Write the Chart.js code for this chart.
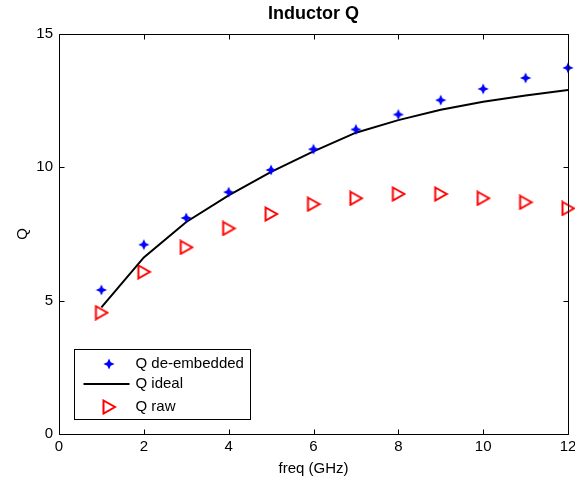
<!DOCTYPE html>
<html lang="en">
<head>
<meta charset="UTF-8">
<title>Inductor Q</title>
<script src="https://cdn.jsdelivr.net/npm/chart.js"></script>
<style>
  body { margin: 0; background: #fff; }
  #grafico { display: block; background: #fff; }
</style>
</head>
<body>
<canvas id="grafico" width="575" height="480"></canvas>
<script>
// values
const freqGHz = [1, 2, 3, 4, 5, 6, 7, 8, 9, 10, 11, 12];
const qDeembedded = [5.4, 7.1, 8.1, 9.07, 9.9, 10.68, 11.42, 11.98, 12.52, 12.94, 13.35, 13.73];
const qIdeal = [4.75, 6.62, 7.95, 8.95, 9.83, 10.6, 11.3, 11.77, 12.16, 12.46, 12.69, 12.9];
const qRaw = [4.55, 6.08, 7.0, 7.71, 8.25, 8.62, 8.84, 9.0, 9.0, 8.84, 8.69, 8.46];
const xTicks = [0, 2, 4, 6, 8, 10, 12];
const yTicks = [0, 5, 10, 15];
const legendLabels = ['Q de-embedded', 'Q ideal', 'Q raw'];

const fonte = 'Liberation Sans, Arial, sans-serif';

// marker images (matlab-like '*' and '>')
function fazerEstrela() {
    const c = document.createElement('canvas');
    c.width = 12; c.height = 12;
    const g = c.getContext('2d');
    const m = 6, r = 5.6, k = 1.7;
    g.fillStyle = '#0000ff';
    g.beginPath();
    g.moveTo(m, m - r);
    g.lineTo(m + k, m - k);
    g.lineTo(m + r, m);
    g.lineTo(m + k, m + k);
    g.lineTo(m, m + r);
    g.lineTo(m - k, m + k);
    g.lineTo(m - r, m);
    g.lineTo(m - k, m - k);
    g.closePath();
    g.fill();
    return c;
}
function fazerTriangulo() {
    const c = document.createElement('canvas');
    c.width = 16; c.height = 16;
    const g = c.getContext('2d');
    g.strokeStyle = '#ff0000';
    g.lineWidth = 2;
    g.lineJoin = 'miter';
    g.beginPath();
    g.moveTo(2.5, 1.5);
    g.lineTo(14, 8);
    g.lineTo(2.5, 14.5);
    g.closePath();
    g.stroke();
    return c;
}
const estrela = fazerEstrela();
const triangulo = fazerTriangulo();

function pontos(ys) {
    return freqGHz.map((x, i) => ({ x: x, y: ys[i] }));
}

// box around the axes + inward ticks on all four sides
const moldura = {
    id: 'moldura',
    afterDatasetsDraw(chart) {
        const ctx = chart.ctx;
        const a = chart.chartArea;
        const sx = chart.scales.x, sy = chart.scales.y;
        const L = Math.round(a.left) + 0.5, R = Math.round(a.right) + 0.5;
        const T = Math.round(a.top) + 0.5, B = Math.round(a.bottom) + 0.5;
        const t = 5;
        ctx.save();
        ctx.strokeStyle = '#000';
        ctx.lineWidth = 1;
        ctx.beginPath();
        ctx.rect(L, T, R - L, B - T);
        sx.ticks.forEach(tk => {
            const px = Math.round(sx.getPixelForValue(tk.value)) + 0.5;
            ctx.moveTo(px, B); ctx.lineTo(px, B - t);
            ctx.moveTo(px, T); ctx.lineTo(px, T + t);
        });
        sy.ticks.forEach(tk => {
            const py = Math.round(sy.getPixelForValue(tk.value)) + 0.5;
            ctx.moveTo(L, py); ctx.lineTo(L + t, py);
            ctx.moveTo(R, py); ctx.lineTo(R - t, py);
        });
        ctx.stroke();
        ctx.restore();
    }
};

// legend box in the lower left corner of the axes
const legenda = {
    id: 'legenda',
    afterDraw(chart) {
        const ctx = chart.ctx;
        const a = chart.chartArea;
        const bx = Math.round(a.left) + 15.5, by = Math.round(a.bottom) - 84.5;
        const bw = 176, bh = 70;
        ctx.save();
        ctx.fillStyle = '#fff';
        ctx.fillRect(bx, by, bw, bh);
        ctx.strokeStyle = '#000';
        ctx.lineWidth = 1;
        ctx.strokeRect(bx, by, bw, bh);
        const linhas = [by + 14, by + 34.5, by + 57];
        const mx = bx + 34;
        ctx.drawImage(estrela, Math.round(mx - 6), Math.round(linhas[0] - 6));
        ctx.beginPath();
        ctx.lineWidth = 2;
        ctx.strokeStyle = '#000';
        ctx.moveTo(bx + 9, linhas[1]);
        ctx.lineTo(bx + 55, linhas[1]);
        ctx.stroke();
        ctx.drawImage(triangulo, Math.round(mx - 8), Math.round(linhas[2] - 8));
        ctx.fillStyle = '#000';
        ctx.font = '15px ' + fonte;
        ctx.textBaseline = 'middle';
        ctx.textAlign = 'left';
        legendLabels.forEach((txt, i) => ctx.fillText(txt, bx + 61, linhas[i]));
        ctx.restore();
    }
};

const config = {
    type: 'scatter',
    data: {
        datasets: [
            {
                label: legendLabels[0],
                data: pontos(qDeembedded),
                pointStyle: estrela,
                showLine: false,
                clip: false
            },
            {
                label: legendLabels[1],
                data: pontos(qIdeal),
                showLine: true,
                borderColor: '#000',
                borderWidth: 2,
                pointRadius: 0,
                pointHoverRadius: 0,
                tension: 0,
                clip: false
            },
            {
                label: legendLabels[2],
                data: pontos(qRaw),
                pointStyle: triangulo,
                showLine: false,
                clip: false
            }
        ]
    },
    options: {
        responsive: false,
        animation: false,
        events: [],
        layout: { padding: { left: 0, right: 7, top: 0, bottom: 0 } },
        plugins: {
            legend: { display: false },
            tooltip: { enabled: false },
            title: {
                display: true,
                fullSize: false, // centre it over the axes, like matlab
                text: 'Inductor Q',
                color: '#000',
                font: { family: fonte, size: 18, weight: 'bold' },
                padding: { top: 3, bottom: 9.4 }
            }
        },
        scales: {
            x: {
                type: 'linear',
                min: 0,
                max: 12,
                afterBuildTicks: s => { s.ticks = xTicks.map(v => ({ value: v })); },
                afterFit: s => { s.height = 46; s.paddingLeft = 0; s.paddingRight = 0; },
                grid: { display: false, drawTicks: false },
                border: { display: false },
                ticks: { color: '#000', padding: 4, font: { family: fonte, size: 15 } },
                title: {
                    display: true,
                    text: 'freq (GHz)',
                    color: '#000',
                    font: { family: fonte, size: 15 },
                    padding: { top: 0, bottom: 2 }
                }
            },
            y: {
                type: 'linear',
                min: 0,
                max: 15,
                afterBuildTicks: s => { s.ticks = yTicks.map(v => ({ value: v })); },
                afterFit: s => { s.width = 59; s.paddingTop = 0; s.paddingBottom = 0; },
                grid: { display: false, drawTicks: false },
                border: { display: false },
                ticks: { color: '#000', padding: 6, font: { family: fonte, size: 15 } },
                title: {
                    display: true,
                    text: 'Q',
                    color: '#000',
                    font: { family: fonte, size: 15 },
                    padding: { top: 14, bottom: 0 }
                }
            }
        }
    },
    plugins: [moldura, legenda]
};

const grafico = new Chart(document.getElementById('grafico'), config);
</script>
</body>
</html>
